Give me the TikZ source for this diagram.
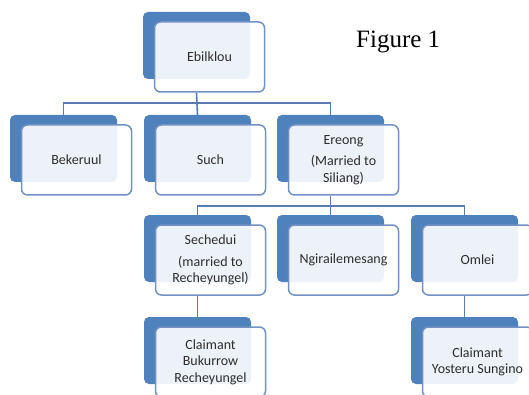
\documentclass[tikz,border=0pt]{standalone}
\usepackage{fontspec}
\usepackage{xcolor}
\usetikzlibrary{calc}
\setmainfont{Liberation Serif}
\newfontfamily\cardfont{Carlito}
\definecolor{cardblue}{RGB}{79,129,189}
\definecolor{cardline}{RGB}{115,145,195}
\definecolor{linkblue}{RGB}{90,124,178}
\definecolor{cardtext}{RGB}{45,45,45}
\tikzset{every picture/.style={ampersand replacement=\&}}
\tikzset{
  back/.style={fill=cardblue, draw=none, rounded corners=5pt, minimum width=107pt, minimum height=67pt, inner sep=0pt},
  card/.style={draw=cardline, line width=1.5pt, fill=white, fill opacity=0.9, text opacity=1, text=cardtext, rounded corners=6pt, minimum width=110pt, minimum height=70pt, inner sep=2pt, align=center, font=\cardfont\fontsize{14}{16.5}\selectfont},
  link/.style={linkblue, line width=1.6pt}
}

\begin{document}
\begin{tikzpicture}[x=1pt,y=-1pt]
\path[use as bounding box, fill=white] (0,0) rectangle (529,395);
\node[back] (ebilb) at (196.5,45.5) {};
\node[card] (ebil) at ([xshift=13pt,yshift=-11.5pt]ebilb.center) {Ebilklou};
\node[back] (bekb) at (63.5,148.5) {};
\node[card] (bek) at ([xshift=13pt,yshift=-11.5pt]bekb.center) {Bekeruul};
\node[back] (suchb) at (197.5,148.5) {};
\node[card] (such) at ([xshift=13pt,yshift=-11.5pt]suchb.center) {Such};
\node[back] (ereb) at (330.5,148.5) {};
\node[card] (ere) at ([xshift=13pt,yshift=-11.5pt]ereb.center) {Ereong\\[5pt](Married to\\Siliang)};
\node[back] (sechb) at (197.5,248.5) {};
\node[card] (sech) at ([xshift=13pt,yshift=-11.5pt]sechb.center) {Sechedui\\[5pt](married to\\Recheyungel)};
\node[back] (ngirb) at (330.5,248.5) {};
\node[card] (ngir) at ([xshift=13pt,yshift=-11.5pt]ngirb.center) {Ngirailemesang};
\node[back] (omleib) at (464.5,248.5) {};
\node[card] (omlei) at ([xshift=13pt,yshift=-11.5pt]omleib.center) {Omlei};
\node[back] (claimab) at (197.5,350.5) {};
\node[card] (claima) at ([xshift=13pt,yshift=-11.5pt]claimab.center) {Claimant\\Bukurrow\\Recheyungel};
\node[back] (claimbb) at (464.5,350.5) {};
\node[card] (claimb) at ([xshift=13pt,yshift=-11.5pt]claimbb.center) {Claimant\\Yosteru Sungino};
\node[anchor=base west, inner sep=0pt, font=\fontsize{25}{30}\selectfont] (fig) at (356,48) {Figure 1};

\coordinate (bus1) at ($(ebilb |- ebil.south)+(0,10)$);
\coordinate (bus2) at ($(ereb |- ere.south)+(0,10)$);
\draw[link] (ebilb |- ebil.south) -- (suchb.north);
\draw[link] (bekb.north) |- (bus1) -| (ereb.north);
\draw[link] (ereb |- ere.south) -- (ngirb.north);
\draw[link] (sechb.north) |- (bus2) -| (omleib.north);
\draw[link] (sechb |- sech.south) -- (claimab.north);
\draw[link] (omleib |- omlei.south) -- (claimbb.north);
\end{tikzpicture}
\end{document}
